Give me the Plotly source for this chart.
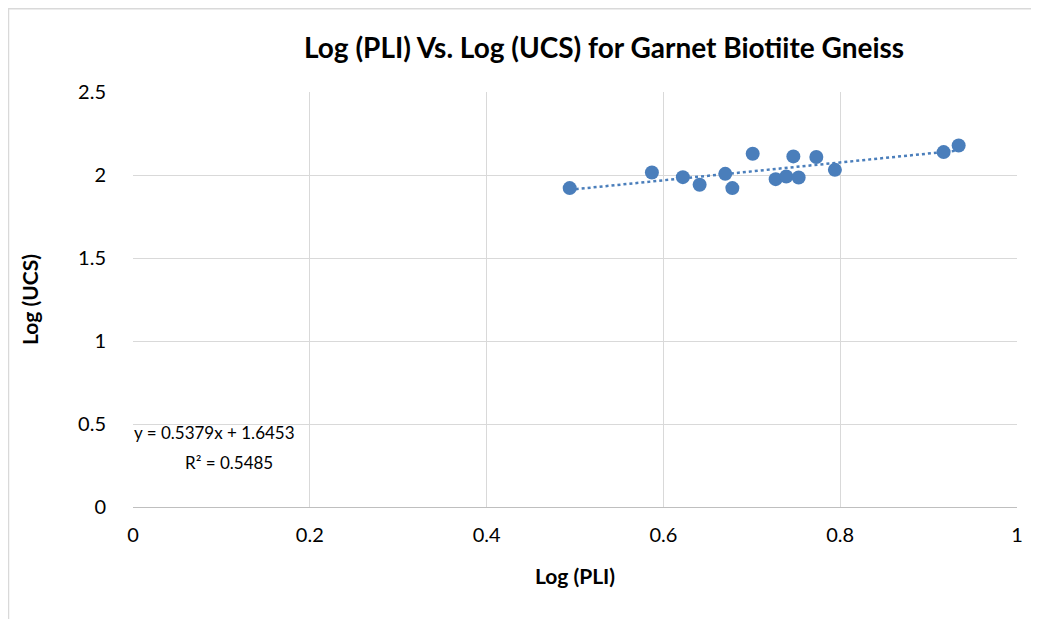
import plotly.graph_objects as go

log_pli = [0.494, 0.587, 0.622, 0.641, 0.670, 0.678, 0.701, 0.727, 0.739, 0.747, 0.753, 0.773, 0.794, 0.917, 0.934]
log_ucs = [1.921, 2.015, 1.987, 1.941, 2.007, 1.921, 2.128, 1.975, 1.991, 2.112, 1.985, 2.108, 2.031, 2.138, 2.178]
slope = 0.5379
intercept = 1.6453
r2 = 0.5485
x_ticks = [0, 0.2, 0.4, 0.6, 0.8, 1]
x_tick_text = ["0", "0.2", "0.4", "0.6", "0.8", "1"]
y_ticks = [0, 0.5, 1, 1.5, 2, 2.5]
y_tick_text = ["0", "0.5", "1", "1.5", "2", "2.5"]

blue = "#4A7EBB"
font = "Lato"

x_min, x_max = min(log_pli), max(log_pli)
trend_x = [x_min, x_max]
trend_y = [slope * v + intercept for v in trend_x]

fig = go.Figure()
fig.add_trace(go.Scatter(
    x=trend_x, y=trend_y, mode="lines",
    line=dict(color=blue, width=2.5, dash="dot"),
    hoverinfo="skip", showlegend=False,
))
fig.add_trace(go.Scatter(
    x=log_pli, y=log_ucs, mode="markers",
    marker=dict(color=blue, size=14, line=dict(width=0)),
    showlegend=False,
))

# page body has an 8px margin; work in screen pixels and subtract it
OFF = 8
W, H = 1039 - OFF, 619 - OFF
L, R, T, B = 133 - OFF, 22, 92 - OFF, 112
pw, ph = W - L - R, H - T - B


def px(x):
    return (x - OFF - L) / pw


def py(y):
    return (H - B - (y - OFF)) / ph


fig.update_layout(
    width=W, height=H,
    margin=dict(l=L, r=R, t=T, b=B),
    paper_bgcolor="white", plot_bgcolor="white",
    font=dict(family=font, size=20, color="#000000"),
    xaxis=dict(
        range=[0, 1], tickvals=x_ticks, ticktext=x_tick_text,
        showgrid=True, gridcolor="#D9D9D9", gridwidth=1.3,
        zeroline=False, showline=True, linecolor="#BFBFBF", linewidth=1.3,
        ticks="", ticklabelstandoff=10,
        title=dict(text="<b>Log (PLI)</b>", font=dict(size=21), standoff=24),
        fixedrange=True,
    ),
    yaxis=dict(
        range=[0, 2.5], tickvals=y_ticks, ticktext=y_tick_text,
        showgrid=True, gridcolor="#D9D9D9", gridwidth=1.3,
        zeroline=False, showline=False,
        ticks="", ticklabelstandoff=26,
        title=dict(text="<b>Log (UCS)</b>", font=dict(size=21), standoff=33),
        fixedrange=True,
    ),
    annotations=[
        dict(text="<b>Log (PLI) Vs. Log (UCS) for Garnet Biotiite Gneiss</b>",
             xref="paper", yref="paper", x=px(604), y=py(47),
             xanchor="center", yanchor="middle", showarrow=False,
             font=dict(size=28, family=font)),
        dict(text=f"y = {slope}x + {intercept}",
             xref="paper", yref="paper", x=px(214), y=py(432),
             xanchor="center", yanchor="middle", showarrow=False,
             font=dict(size=17, family=font)),
        dict(text=f"R² = {r2}",
             xref="paper", yref="paper", x=px(229), y=py(462),
             xanchor="center", yanchor="middle", showarrow=False,
             font=dict(size=17, family=font)),
    ],
    shapes=[
        dict(type="line", xref="paper", yref="paper", x0=px(8.5), x1=px(8.5), y0=py(8), y1=py(619),
             line=dict(color="#D9D9D9", width=1.5)),
        dict(type="line", xref="paper", yref="paper", x0=px(8), x1=px(1039), y0=py(8.7), y1=py(8.7),
             line=dict(color="#D9D9D9", width=1.5)),
    ],
)

fig.write_html("out.html")
